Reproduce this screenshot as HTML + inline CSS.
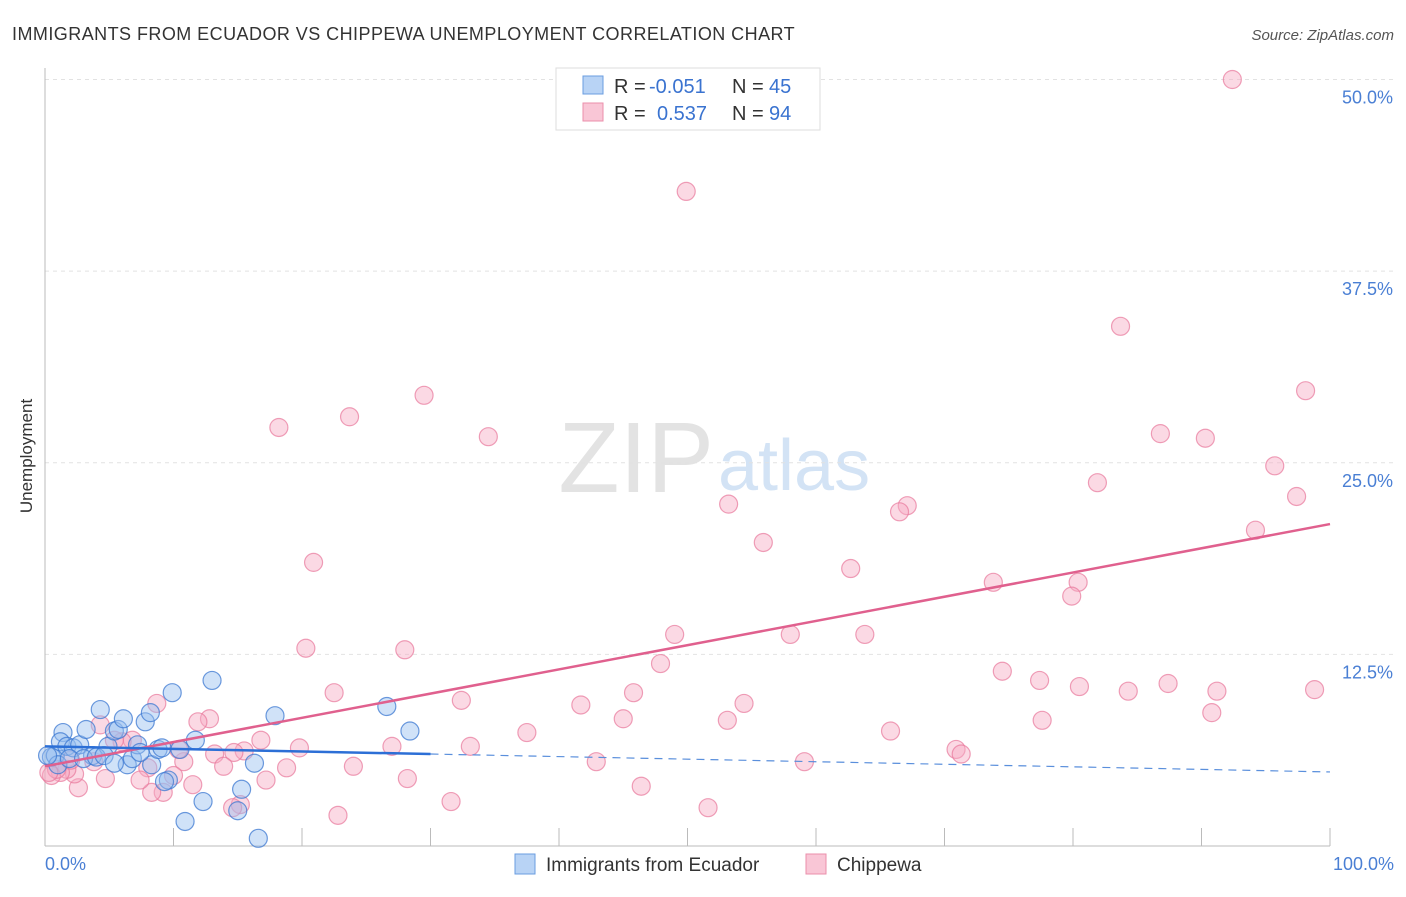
<!DOCTYPE html>
<html><head><meta charset="utf-8"><style>
body{margin:0;background:#fff;font-family:"Liberation Sans",sans-serif}
svg text{font-family:"Liberation Sans",sans-serif}
</style></head><body>
<svg id="c" width="1406" height="892" xmlns="http://www.w3.org/2000/svg">
<text x="12" y="40" font-size="18" fill="#333" letter-spacing="0.45">IMMIGRANTS FROM ECUADOR VS CHIPPEWA UNEMPLOYMENT CORRELATION CHART</text>
<text x="1394" y="40" font-size="15" fill="#555" font-style="italic" text-anchor="end">Source: ZipAtlas.com</text>
<text x="714" y="492" font-size="100" fill="#e3e3e3" text-anchor="end" font-family="Liberation Serif">ZIP</text>
<text x="718" y="490" font-size="72" fill="#d3e3f5">atlas</text>
<g id="grid"></g>
<line x1="45" y1="68" x2="45" y2="846" stroke="#bbb"/>
<line x1="45" y1="846" x2="1330" y2="846" stroke="#bbb"/>
<g id="ticks"></g>
<text x="32" y="456" font-size="17" fill="#333" text-anchor="middle" transform="rotate(-90 32 456)">Unemployment</text>
<text x="45" y="870" font-size="18" fill="#4a7fd4">0.0%</text>
<text x="1394" y="870" font-size="18" fill="#4a7fd4" text-anchor="end">100.0%</text>
<g id="pts"></g>
<g id="lines"></g>
<g>
<rect x="556" y="68" width="264" height="62" fill="#fff" stroke="#ddd"/>
<rect x="583" y="76" width="20" height="18" fill="#b8d3f5" stroke="#6a9de0"/>
<rect x="583" y="103" width="20" height="18" fill="#f9c6d6" stroke="#eb8fab"/>
<text x="614" y="93" font-size="20" fill="#333">R =</text>
<text x="649" y="93" font-size="20" fill="#3a73d0">-0.051</text>
<text x="732" y="93" font-size="20" fill="#333">N =</text>
<text x="769" y="93" font-size="20" fill="#3a73d0">45</text>
<text x="614" y="120" font-size="20" fill="#333">R =</text>
<text x="657" y="120" font-size="20" fill="#3a73d0">0.537</text>
<text x="732" y="120" font-size="20" fill="#333">N =</text>
<text x="769" y="120" font-size="20" fill="#3a73d0">94</text>
</g>
<g>
<rect x="515" y="854" width="20" height="20" fill="#b8d3f5" stroke="#6a9de0"/>
<text x="546" y="871" font-size="19" fill="#333">Immigrants from Ecuador</text>
<rect x="806" y="854" width="20" height="20" fill="#f9c6d6" stroke="#eb8fab"/>
<text x="837" y="871" font-size="19" fill="#333">Chippewa</text>
</g>
</svg>
<script>
const yTicks=[12.5,25,37.5,50];
const yTickLabels=["12.5%","25.0%","37.5%","50.0%"];
const blueX=[0.5,0.8,1.4,1.2,1.7,2.2,2.7,3.2,3.7,4.3,4.9,5.4,5.7,6.1,6.4,6.8,7.2,7.8,8.2,8.3,8.8,9.1,9.6,9.9,10.5,10.9,11.7,12.3,13.0,15.0,15.3,16.3,16.6,17.9,26.6,28.4,1.0,1.9,3.0,4.0,4.6,5.4,7.4,0.2,9.3];
const blueY=[5.8,5.9,7.4,6.8,6.5,6.4,6.6,7.6,5.9,8.9,6.5,7.5,7.6,8.3,5.3,5.7,6.6,8.1,8.7,5.3,6.3,6.4,4.3,10.0,6.3,1.6,6.9,2.9,10.8,2.3,3.7,5.4,0.5,8.5,9.1,7.5,5.3,5.7,5.7,5.8,5.9,5.4,6.1,5.9,4.2];
const pinkX=[92.4,49.9,83.7,98.1,29.5,23.7,18.2,34.5,86.8,90.3,95.7,81.9,97.4,53.2,67.1,66.5,94.2,55.9,20.9,62.7,73.8,80.4,79.9,49.0,58.0,63.8,20.3,28.0,74.5,47.9,77.4,80.5,84.3,87.4,91.2,98.8,45.8,22.5,32.4,41.7,54.4,90.8,77.6,45.0,53.1,65.8,37.5,33.1,27.0,70.9,71.3,59.1,42.9,24.0,28.2,46.4,31.6,51.6,22.8,19.8,18.8,17.2,16.8,15.5,14.7,13.2,13.9,12.8,11.9,11.5,10.8,10.4,10.0,9.2,8.7,8.3,8.0,7.4,6.8,6.0,5.4,4.7,4.3,3.8,2.6,2.3,1.7,1.2,0.5,0.9,15.2,14.6,0.3,2.0];
const pinkY=[50.0,42.7,33.9,29.7,29.4,28.0,27.3,26.7,26.9,26.6,24.8,23.7,22.8,22.3,22.2,21.8,20.6,19.8,18.5,18.1,17.2,17.2,16.3,13.8,13.8,13.8,12.9,12.8,11.4,11.9,10.8,10.4,10.1,10.6,10.1,10.2,10.0,10.0,9.5,9.2,9.3,8.7,8.2,8.3,8.2,7.5,7.4,6.5,6.5,6.3,6.0,5.5,5.5,5.2,4.4,3.9,2.9,2.5,2.0,6.4,5.1,4.3,6.9,6.2,6.1,6.0,5.2,8.3,8.1,4.0,5.5,6.3,4.6,3.5,9.3,3.5,5.1,4.3,6.9,6.8,6.9,4.4,7.9,5.5,3.8,4.7,5.0,4.8,4.6,5.0,2.7,2.5,4.8,5.6];
const blueFit=[6.5,-0.0167];
const pinkFit=[5.2,0.158];
const X=v=>45+v*12.85, Y=v=>846-v*15.33;
const NS="http://www.w3.org/2000/svg";
function mk(tag,attrs,parent){const e=document.createElementNS(NS,tag);for(const k in attrs)e.setAttribute(k,attrs[k]);document.getElementById(parent).appendChild(e);return e;}
yTicks.forEach((t,i)=>{
 const l=mk('line',{x1:45,x2:1394,y1:Y(t),y2:Y(t),stroke:'#e2e2e2','stroke-dasharray':'4 4'},'grid');
 
 
 const tx=mk('text',{x:1393,y:Y(t)+24,'font-size':18,fill:'#4a7fd4','text-anchor':'end'},'grid');
 tx.textContent=yTickLabels[i];
 
 
});
for(let i=1;i<=10;i++){
 const t=mk('line',{x1:X(i*10),x2:X(i*10),y1:828,y2:846,stroke:'#bbb'},'ticks');
 
 
}
pinkX.forEach((v,i)=>{
 const c=mk('circle',{cx:X(v),cy:Y(pinkY[i]),r:9,fill:'rgba(246,170,195,0.45)',stroke:'rgba(232,120,155,0.7)','stroke-width':1.2},'pts');
 
 
});
blueX.forEach((v,i)=>{
 const c=mk('circle',{cx:X(v),cy:Y(blueY[i]),r:9,fill:'rgba(150,190,240,0.45)',stroke:'rgba(60,120,210,0.75)','stroke-width':1.2},'pts');
 
 
});
const f=(p,x)=>p[0]+p[1]*x;
let l1=mk('line',{x1:X(0),y1:Y(f(pinkFit,0)),x2:X(100),y2:Y(f(pinkFit,100)),stroke:'#e0608e','stroke-width':2.5},'lines');


let l2=mk('line',{x1:X(0),y1:Y(f(blueFit,0)),x2:X(30),y2:Y(f(blueFit,30)),stroke:'#2c6fd6','stroke-width':2.5},'lines');


let l3=mk('line',{x1:X(30),y1:Y(f(blueFit,30)),x2:X(100),y2:Y(f(blueFit,100)),stroke:'#5a8fdc','stroke-width':1.2,'stroke-dasharray':'8 6'},'lines');


</script>
</body></html>
